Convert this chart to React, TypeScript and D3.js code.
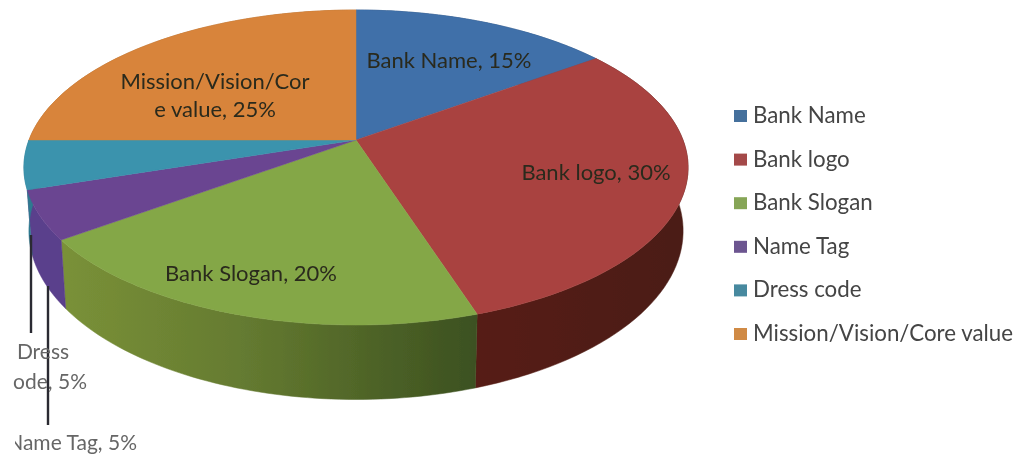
import React from "react";
import * as d3 from "d3";

const categories = ["Bank Name", "Bank logo", "Bank Slogan", "Name Tag", "Dress code", "Mission/Vision/Core value"];
const values = [15, 30, 20, 5, 5, 25];
const topColors = ["#3f6fa9", "#a94340", "#84a746", "#6a4591", "#3a93ad", "#d8843a"];
const sideColors = ["#2b4c74", "url(#sideRed)", "url(#sideGreen)", "#5a3f8c", "#2e7a90", "#a5642a"];
const legendColors = ["#44709c", "#a44a48", "#86a556", "#6c5490", "#47899f", "#d08a45"];

const W = 1014, H = 456;
const cx = 356, cy = 140;
const R = 327, H0 = 152.7, K = 0.1746, DEPTH = 61.5, BOTTOM_SCALE = 0.985;

const proj = (a: number) => {
  const w = 1 + K * Math.cos(a);
  return {
    x: cx + (R * Math.sin(a)) / w,
    y: cy - (H0 * Math.cos(a)) / w,
    drop: DEPTH / w,
  };
};

const samples = (a0: number, a1: number) =>
  d3.range(0, 61).map((i) => proj(a0 + ((a1 - a0) * i) / 60));

const lineGen = d3.line<[number, number]>();

const topPath = (a0: number, a1: number) =>
  lineGen([[cx, cy], ...samples(a0, a1).map((p) => [p.x, p.y] as [number, number])]) + "Z";

const wallPath = (a0: number, a1: number) => {
  const s = samples(a0, a1);
  return (
    lineGen([
      ...s.map((p) => [p.x, p.y] as [number, number]),
      ...s.slice().reverse().map((p) => [cx + (p.x - cx) * BOTTOM_SCALE, p.y + p.drop] as [number, number]),
    ]) + "Z"
  );
};

const arcs = d3.pie<number>().sort(null)(values);

const legendY = d3.scalePoint<string>().domain(categories).range([116, 334]);

const font = "Lato, 'Open Sans', sans-serif";
const pieLabels = [
  { lines: ["Bank Name, 15%"], x: 449, y: 68 },
  { lines: ["Bank logo, 30%"], x: 596, y: 180 },
  { lines: ["Bank Slogan, 20%"], x: 251, y: 281 },
  { lines: ["Mission/Vision/Cor", "e value, 25%"], x: 215, y: 89 },
];

export default function App() {
  return (
    <svg
      width={W}
      height={H}
      viewBox={`0 0 ${W} ${H}`}
      style={{ position: "absolute", left: 0, top: 0, background: "#fff" }}
    >
      <defs>
        <linearGradient id="sideGreen" gradientUnits="userSpaceOnUse" x1="62" y1="0" x2="474" y2="0">
          <stop offset="0" stopColor="#7a9138" />
          <stop offset="0.45" stopColor="#647a30" />
          <stop offset="1" stopColor="#3c5120" />
        </linearGradient>
        <linearGradient id="sideRed" gradientUnits="userSpaceOnUse" x1="474" y1="0" x2="688" y2="0">
          <stop offset="0" stopColor="#561a12" />
          <stop offset="1" stopColor="#4b1d16" />
        </linearGradient>
        <filter id="soft" x="-5%" y="-5%" width="110%" height="110%">
          <feGaussianBlur stdDeviation="0.7" />
        </filter>
        <clipPath id="clipDress"><rect x="13" y="330" width="100" height="70" /></clipPath>
        <clipPath id="clipTag"><rect x="15" y="425" width="160" height="31" /></clipPath>
      </defs>
      <g filter="url(#soft)">
        {arcs.map((d, i) => (
          <path key={i} d={wallPath(d.startAngle, d.endAngle)} fill={sideColors[i]} stroke={sideColors[i]} strokeWidth={0.5} />
        ))}
        {arcs.map((d, i) => (
          <path key={i} d={topPath(d.startAngle, d.endAngle)} fill={topColors[i]} stroke={topColors[i]} strokeWidth={0.5} />
        ))}
        <line x1={31} y1={235} x2={31} y2={333} stroke="#2a2a30" strokeWidth={2.4} />
        <line x1={48} y1={286} x2={48} y2={425} stroke="#2a2a30" strokeWidth={2.4} />
        {pieLabels.map((l, i) => (
          <text key={i} x={l.x} y={l.y} textAnchor="middle" fontFamily={font} fontSize={22} fill="#2a2a1e">
            {l.lines.map((t, j) => (
              <tspan key={j} x={l.x} dy={j ? 28 : 0}>{t}</tspan>
            ))}
          </text>
        ))}
        <g fontFamily={font} fontSize={21} fill="#666">
          <text x={43} y={359} textAnchor="middle">Dress</text>
          <g clipPath="url(#clipDress)"><text x={87} y={389} textAnchor="end">code, 5%</text></g>
          <g clipPath="url(#clipTag)"><text x={137} y={450} textAnchor="end">Name Tag, 5%</text></g>
        </g>
        {categories.map((c, i) => (
          <g key={c}>
            <rect x={734} y={legendY(c)! - 6} width={13} height={12} fill={legendColors[i]} />
            <text x={753} y={legendY(c)! + 7} fontFamily={font} fontSize={22.3} fill="#444">{c}</text>
          </g>
        ))}
      </g>
    </svg>
  );
}
